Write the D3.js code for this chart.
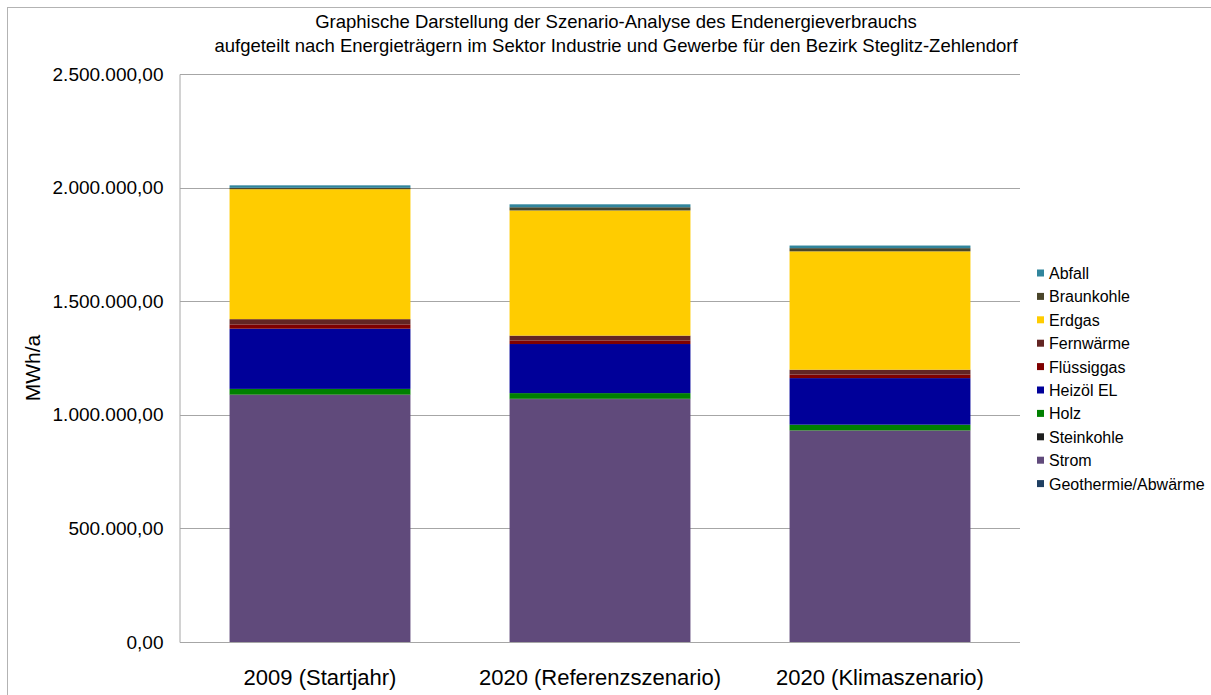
<!DOCTYPE html>
<html>
<head>
<meta charset="utf-8">
<script src="https://cdn.jsdelivr.net/npm/d3@7"></script>
<style>
  body { margin: 0; background: #fff; }
  text { font-family: "Liberation Sans", Arial, sans-serif; fill: #000; }
</style>
</head>
<body>
<div id="chart"></div>
<script>
// scenarios on the x axis
var categories = ['2009 (Startjahr)', '2020 (Referenzszenario)', '2020 (Klimaszenario)'];

// carriers, bottom of the stack first
var carriers = ['Geothermie/Abwärme', 'Strom', 'Steinkohle', 'Holz', 'Heizöl EL',
                'Flüssiggas', 'Fernwärme', 'Erdgas', 'Braunkohle', 'Abfall'];

// MWh/a per scenario, same order as categories
var geothermie = [0, 0, 0];
var strom      = [1087000, 1069000, 930000];
var steinkohle = [2000, 1500, 1500];
var holz       = [25000, 25000, 25000];
var heizoel    = [265000, 216000, 205000];
var fluessig   = [19000, 16000, 16000];
var fernwaerme = [23000, 21000, 21000];
var erdgas     = [572000, 551000, 521000];
var braunkohle = [6000, 14000, 14000];
var abfall     = [11000, 13000, 11500];

var yTicks = [0, 500000, 1000000, 1500000, 2000000, 2500000];

var colors = {
  'Geothermie/Abwärme': '#1F3F62',
  'Strom': '#604A7B',
  'Steinkohle': '#1E1E1E',
  'Holz': '#008000',
  'Heizöl EL': '#000099',
  'Flüssiggas': '#7F0000',
  'Fernwärme': '#632523',
  'Erdgas': '#FFCC00',
  'Braunkohle': '#4A452A',
  'Abfall': '#31859C'
};

var seriesValues = [geothermie, strom, steinkohle, holz, heizoel,
                    fluessig, fernwaerme, erdgas, braunkohle, abfall];

// build rows for d3.stack
var rows = categories.map(function(c, i) {
  var r = { cat: c };
  carriers.forEach(function(k, j) { r[k] = seriesValues[j][i]; });
  return r;
});

var svgWidth = 1211;
var svgHeight = 695;
var plotLeft = 180, plotRight = 1020, plotTop = 74, plotBottom = 642;
var font = '"Liberation Sans", Arial, sans-serif';

var svg = d3.select('#chart')
  .append('svg')
  .attr('width', svgWidth)
  .attr('height', svgHeight);

// outer chart border
svg.append('rect')
  .attr('x', 7.5).attr('y', 7.5)
  .attr('width', 1300).attr('height', 800)
  .attr('fill', 'none')
  .attr('stroke', '#b3b3b3')
  .attr('stroke-width', 1);

var x = d3.scaleBand()
  .domain(categories)
  .range([plotLeft, plotRight])
  .paddingInner(0.354)
  .paddingOuter(0.177);

var y = d3.scaleLinear()
  .domain([0, 2500000])
  .range([plotBottom, plotTop]);

// gridlines
svg.append('g')
  .selectAll('line')
  .data(yTicks.slice(1))
  .enter()
  .append('line')
  .attr('x1', plotLeft).attr('x2', plotRight)
  .attr('y1', function(d) { return Math.round(y(d)) + 0.5; })
  .attr('y2', function(d) { return Math.round(y(d)) + 0.5; })
  .attr('stroke', '#a6a6a6')
  .attr('stroke-width', 1);

var stack = d3.stack().keys(carriers);
var layers = stack(rows);

svg.append('g')
  .selectAll('g')
  .data(layers)
  .enter()
  .append('g')
  .attr('fill', function(d) { return colors[d.key]; })
  .selectAll('rect')
  .data(function(d) { return d; })
  .enter()
  .append('rect')
  .attr('x', function(d) { return x(d.data.cat); })
  .attr('width', x.bandwidth())
  .attr('y', function(d) { return y(d[1]); })
  .attr('height', function(d) { return y(d[0]) - y(d[1]); });

// y axis, german number format
var yAxis = d3.axisLeft(y)
  .tickValues(yTicks)
  .tickSize(0)
  .tickPadding(16)
  .tickFormat(function(d) {
    return d3.format(',.2f')(d).replace(/,/g, 'X').replace('.', ',').replace(/X/g, '.');
  });

var gy = svg.append('g')
  .attr('transform', 'translate(' + (plotLeft - 0.5) + ',0)')
  .call(yAxis);
gy.select('.domain').attr('stroke', '#a6a6a6');
gy.selectAll('text').attr('font-size', '19px').attr('font-family', font);

// x axis
var xAxis = d3.axisBottom(x).tickSize(0).tickPadding(27);
var gx = svg.append('g')
  .attr('transform', 'translate(0,' + (plotBottom + 0.5) + ')')
  .call(xAxis);
gx.select('.domain').attr('stroke', '#a6a6a6').attr('d', 'M' + plotLeft + ',0H' + plotRight);
gx.selectAll('text').attr('font-size', '22px').attr('font-family', font);

// axis title
svg.append('text')
  .attr('transform', 'translate(40,368) rotate(-90)')
  .attr('text-anchor', 'middle')
  .attr('font-size', '21px')
  .text('MWh/a');

// chart title
var title = svg.append('text')
  .attr('text-anchor', 'middle')
  .attr('font-size', '18.5px');
title.append('tspan').attr('x', 616).attr('y', 28)
  .text('Graphische Darstellung der Szenario-Analyse des Endenergieverbrauchs');
title.append('tspan').attr('x', 616).attr('y', 52)
  .text('aufgeteilt nach Energieträgern im Sektor Industrie und Gewerbe für den Bezirk Steglitz-Zehlendorf');

// legend, top entry is last carrier
var legendItems = carriers.slice().reverse();
var legend = svg.selectAll('.legend')
  .data(legendItems)
  .enter()
  .append('g')
  .attr('class', 'legend')
  .attr('transform', function(d, i) {
    return 'translate(1037,' + (273 + i * 23.4) + ')';
  });

legend.append('rect')
  .attr('x', 0).attr('y', -3.5)
  .attr('width', 7).attr('height', 7)
  .attr('fill', function(d) { return colors[d]; });

legend.append('text')
  .attr('x', 12)
  .attr('y', 6)
  .attr('font-size', '16px')
  .text(function(d) { return d; });
</script>
</body>
</html>
